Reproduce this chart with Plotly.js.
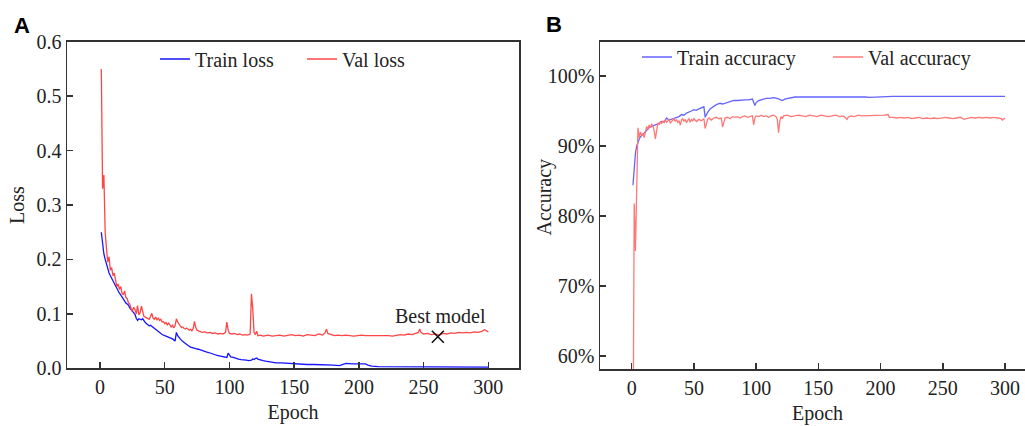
<!DOCTYPE html>
<html>
<head>
<meta charset="utf-8">
<script src="https://cdn.plot.ly/plotly-3.0.1.min.js"></script>
<style>
html,body{margin:0;padding:0;overflow:hidden;background:#fff;}
#chart{width:1040px;height:426px;}
</style>
</head>
<body>
<div id="chart"></div>
<script>
// ---------------- DATA ----------------
const valLossEpochs = [1,2,3,4,5,6,7,8,9,10,11,12,13,14,15,16,17,18,19,20,21,22,23,24,25,26,27,28,29,30,31,32,33,34,35,36,37,38,39,40,41,42,43,44,45,46,47,48,49,50,51,52,53,54,55,56,57,58,59,60,61,62,63,64,65,66,67,68,69,70,71,72,73,74,75,77,79,81,83,85,87,89,91,93,95,97,98,99,100,102,104,106,108,110,112,114,116,117,118,119,120,121,122,124,126,128,130,133,136,139,142,145,148,151,154,157,160,163,166,169,172,174,175,176,178,181,184,187,190,193,196,199,202,205,208,211,214,217,220,223,226,229,232,235,238,241,244,246,247,248,250,253,256,259,262,265,268,271,274,277,280,283,286,289,292,295,297,299,300];
const valLoss = [0.550,0.330,0.355,0.250,0.220,0.195,0.205,0.180,0.185,0.170,0.175,0.160,0.150,0.155,0.145,0.150,0.138,0.135,0.142,0.130,0.128,0.120,0.118,0.110,0.105,0.112,0.108,0.100,0.115,0.098,0.102,0.114,0.105,0.095,0.094,0.093,0.092,0.090,0.095,0.101,0.092,0.090,0.094,0.089,0.092,0.088,0.090,0.085,0.086,0.082,0.084,0.080,0.083,0.078,0.076,0.079,0.074,0.078,0.091,0.085,0.080,0.078,0.075,0.076,0.073,0.072,0.074,0.071,0.070,0.072,0.069,0.073,0.086,0.075,0.070,0.068,0.066,0.067,0.065,0.066,0.064,0.065,0.063,0.064,0.063,0.066,0.085,0.070,0.064,0.063,0.064,0.062,0.063,0.061,0.062,0.061,0.063,0.137,0.110,0.066,0.062,0.068,0.060,0.061,0.059,0.060,0.061,0.059,0.060,0.061,0.059,0.060,0.062,0.060,0.061,0.059,0.062,0.061,0.060,0.063,0.061,0.066,0.072,0.064,0.062,0.060,0.061,0.060,0.061,0.060,0.059,0.060,0.061,0.060,0.060,0.061,0.060,0.060,0.061,0.060,0.059,0.061,0.062,0.061,0.063,0.062,0.064,0.066,0.072,0.066,0.063,0.064,0.062,0.063,0.061,0.064,0.063,0.065,0.064,0.066,0.065,0.066,0.065,0.067,0.066,0.068,0.071,0.068,0.067];

const trainLossEpochs = [1,2,3,4,5,6,7,8,9,10,11,12,13,14,15,16,17,18,19,20,21,22,23,24,25,26,27,28,29,30,31,32,33,34,35,36,37,38,39,40,42,44,46,48,50,52,54,56,58,59,60,61,62,64,66,68,70,72,74,76,78,80,82,84,86,88,90,92,94,96,98,99,100,101,103,105,107,109,111,113,115,117,118,119,120,121,122,124,126,128,130,133,136,140,145,150,155,160,165,170,175,180,185,187,190,195,200,205,207,210,215,220,230,240,250,260,270,280,290,300];
const trainLoss = [0.250,0.225,0.210,0.200,0.190,0.180,0.175,0.170,0.165,0.160,0.155,0.150,0.146,0.142,0.138,0.135,0.131,0.128,0.124,0.120,0.118,0.116,0.111,0.108,0.105,0.102,0.099,0.092,0.088,0.091,0.090,0.089,0.091,0.086,0.084,0.082,0.080,0.078,0.079,0.077,0.073,0.069,0.066,0.062,0.060,0.058,0.056,0.054,0.050,0.066,0.060,0.056,0.054,0.049,0.045,0.042,0.039,0.037,0.036,0.035,0.033,0.031,0.030,0.029,0.027,0.025,0.024,0.023,0.022,0.021,0.020,0.028,0.025,0.021,0.020,0.018,0.017,0.016,0.016,0.015,0.014,0.015,0.017,0.016,0.018,0.019,0.017,0.015,0.014,0.013,0.012,0.011,0.010,0.010,0.009,0.008,0.008,0.007,0.007,0.007,0.006,0.006,0.005,0.007,0.009,0.008,0.008,0.008,0.006,0.004,0.003,0.003,0.003,0.003,0.003,0.003,0.002,0.002,0.002,0.002];

const trainAccEpochs = [1,2,3,4,5,6,7,8,9,10,12,14,16,18,20,22,24,26,28,30,32,34,36,38,40,42,44,46,48,50,52,54,56,58,59,60,61,63,65,67,69,71,73,75,77,79,82,85,88,91,94,97,99,100,102,105,108,111,114,117,119,121,123,125,128,131,135,140,145,150,155,160,165,170,175,180,185,188,191,195,200,205,210,220,230,240,250,260,265,270,280,290,300];
const trainAcc = [84.4,86.8,89.0,90.0,90.6,91.0,91.3,91.5,91.6,91.9,92.2,92.6,92.8,93.0,93.1,93.2,93.5,93.4,94.0,93.7,93.8,93.9,94.0,94.2,94.5,94.4,94.7,94.8,95.0,95.2,95.1,95.3,95.4,95.6,94.1,94.5,94.8,95.3,95.6,95.8,96.0,96.1,96.0,96.1,96.3,96.4,96.5,96.5,96.6,96.6,96.6,96.7,95.8,96.2,96.5,96.7,96.8,96.8,96.9,96.8,96.7,96.5,96.7,96.8,96.9,97.0,97.0,97.0,97.0,97.0,97.05,97.0,97.05,97.1,97.05,97.1,97.1,97.0,96.95,97.0,97.0,97.05,97.1,97.1,97.1,97.1,97.15,97.1,97.05,97.1,97.1,97.1,97.1];

const valAccEpochs = [1,2,3,4,5,6,7,8,9,10,11,12,13,14,15,16,17,18,19,20,21,22,23,24,25,26,27,28,29,30,31,32,33,34,35,36,37,38,39,40,41,42,43,44,45,46,47,48,49,50,52,54,56,58,59,60,61,62,64,66,68,70,72,73,74,75,77,79,81,83,85,87,89,91,93,95,97,98,99,100,102,104,106,108,110,112,114,116,117,118,119,120,121,122,125,128,131,134,137,140,143,146,149,152,155,158,161,164,167,170,172,173,174,176,179,182,185,188,191,194,197,200,203,206,207,210,213,216,219,222,225,228,231,234,237,240,243,246,249,252,255,258,261,264,267,270,273,276,279,282,285,288,291,294,297,298,300];
const valAcc = [45.0,81.8,75.0,86.8,92.6,91.2,92.0,91.5,91.8,91.2,92.3,92.8,92.4,93.0,92.6,93.1,92.9,92.2,91.0,92.5,93.3,93.0,93.5,93.2,93.6,93.3,93.7,93.4,93.6,93.8,93.3,93.5,93.6,93.9,93.5,93.8,93.4,93.6,93.0,93.7,93.9,93.5,93.8,93.3,93.7,93.9,93.4,93.8,93.6,93.9,93.5,93.8,93.6,93.9,92.5,93.3,93.8,94.0,93.7,94.0,94.1,93.9,94.0,92.7,93.6,94.0,94.1,93.9,94.2,94.1,94.2,94.0,94.2,94.3,94.1,94.2,94.3,93.0,94.0,94.3,94.2,94.4,94.2,94.3,94.1,94.3,94.4,94.2,93.8,91.9,93.6,94.2,93.9,94.3,94.4,94.2,94.3,94.4,94.3,94.2,94.4,94.3,94.2,94.4,94.3,94.2,94.3,94.4,94.2,94.3,94.0,93.8,94.1,94.3,94.2,94.4,94.3,94.3,94.4,94.3,94.4,94.3,94.4,94.5,94.1,94.1,94.0,94.1,94.0,94.1,93.9,94.0,94.1,93.9,94.0,93.9,94.0,93.9,94.0,94.1,94.0,93.9,94.0,94.1,93.8,94.0,94.1,94.0,94.1,94.0,94.1,94.0,94.1,94.0,93.9,93.7,94.0];

const bestEpoch = [261];
const bestLoss = [0.058];

const lossTicks = [0,0.1,0.2,0.3,0.4,0.5,0.6];
const lossTickLabels = ['0.0','0.1','0.2','0.3','0.4','0.5','0.6'];
const accTicks = [60,70,80,90,100];
const accTickLabels = ['60%','70%','80%','90%','100%'];
const epochTicks = [0,50,100,150,200,250,300];
const epochTickLabels = ['0','50','100','150','200','250','300'];

// ---------------- LAYOUT ----------------
const W = 1040, H = 426;
const serif = 'Liberation Serif, Times New Roman, serif';
const sans = 'Liberation Sans, Arial, sans-serif';
const axisCommon = {
  showline:true, mirror:true, linecolor:'#333', linewidth:1.5,
  ticks:'inside', ticklen:6, tickwidth:1.5, tickcolor:'#333',
  showgrid:false, zeroline:false, fixedrange:true,
  tickfont:{family:serif, size:20, color:'#222'}
};

const traces = [
  {x:trainLossEpochs, y:trainLoss, type:'scatter', mode:'lines', name:'Train loss',
   line:{color:'rgb(20,20,255)', width:1.3}, xaxis:'x', yaxis:'y', legend:'legend'},
  {x:valLossEpochs, y:valLoss, type:'scatter', mode:'lines', name:'Val loss',
   line:{color:'rgb(255,70,70)', width:1.3}, xaxis:'x', yaxis:'y', legend:'legend'},
  {x:bestEpoch, y:bestLoss, type:'scatter', mode:'markers', name:'Best model', showlegend:false,
   marker:{symbol:'x-thin', size:12, line:{width:1.6, color:'#111'}}, xaxis:'x', yaxis:'y'},
  {x:trainAccEpochs, y:trainAcc, type:'scatter', mode:'lines', name:'Train accuracy',
   line:{color:'rgb(100,100,255)', width:1.3}, xaxis:'x2', yaxis:'y2', legend:'legend2'},
  {x:valAccEpochs, y:valAcc, type:'scatter', mode:'lines', name:'Val accuracy',
   line:{color:'rgb(255,120,120)', width:1.3}, xaxis:'x2', yaxis:'y2', legend:'legend2'}
];

const layout = {
  width:W, height:H,
  margin:{l:0, r:0, t:0, b:0},
  paper_bgcolor:'#fff', plot_bgcolor:'#fff',
  font:{family:serif, size:20, color:'#222'},
  xaxis:Object.assign({}, axisCommon, {
    domain:[67/W, 519/W], range:[-25.5, 323.7], anchor:'y',
    tickvals:epochTicks, ticktext:epochTickLabels,
    title:{text:'Epoch', font:{family:serif, size:20, color:'#222'}, standoff:8}
  }),
  yaxis:Object.assign({}, axisCommon, {
    domain:[(H-368.3)/H, (H-41.7)/H], range:[0, 0.6], anchor:'x',
    tickvals:lossTicks, ticktext:lossTickLabels,
    title:{text:'Loss', font:{family:serif, size:20, color:'#222'}, standoff:6}
  }),
  xaxis2:Object.assign({}, axisCommon, {
    domain:[600/W, 1035/W], range:[-25.5, 324.1], anchor:'y2',
    tickvals:epochTicks, ticktext:epochTickLabels,
    title:{text:'Epoch', font:{family:serif, size:20, color:'#222'}, standoff:8}
  }),
  yaxis2:Object.assign({}, axisCommon, {
    domain:[(H-369.3)/H, (H-41.7)/H], range:[58.1, 104.9], anchor:'x2',
    tickvals:accTicks, ticktext:accTickLabels
  }),
  legend:{orientation:'h', x:155/W, y:(H-59)/H, xanchor:'left', yanchor:'middle',
    entrywidth:102, entrywidthmode:'pixels',
    bgcolor:'rgba(0,0,0,0)', font:{family:serif, size:20, color:'#222'}, borderwidth:0},
  legend2:{orientation:'h', x:637/W, y:(H-57)/H, xanchor:'left', yanchor:'middle',
    entrywidth:146, entrywidthmode:'pixels',
    bgcolor:'rgba(0,0,0,0)', font:{family:serif, size:20, color:'#222'}, borderwidth:0},
  annotations:[
    {text:'Best model', x:262.7, y:0.097, xref:'x', yref:'y', showarrow:false,
     font:{family:serif, size:20, color:'#222'}},
    {text:'Accuracy', x:544/W, y:(H-197.5)/H, xref:'paper', yref:'paper', textangle:-90,
     xanchor:'center', yanchor:'middle', showarrow:false,
     font:{family:serif, size:20, color:'#222'}},
    {text:'<b>A</b>', x:12/W, y:(H-26)/H, xref:'paper', yref:'paper', xanchor:'left', yanchor:'middle',
     showarrow:false, font:{family:sans, size:22, color:'#000'}},
    {text:'<b>B</b>', x:544/W, y:(H-25)/H, xref:'paper', yref:'paper', xanchor:'left', yanchor:'middle',
     showarrow:false, font:{family:sans, size:22, color:'#000'}}
  ]
};

Plotly.newPlot('chart', traces, layout, {displayModeBar:false, staticPlot:true});
</script>
</body>
</html>
